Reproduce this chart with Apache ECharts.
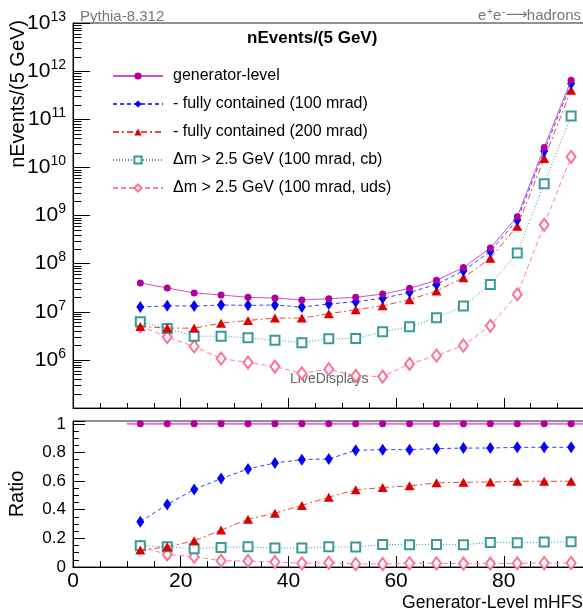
<!DOCTYPE html>
<html><head><meta charset="utf-8">
<script src="https://cdn.jsdelivr.net/npm/echarts@6/dist/echarts.min.js"></script>
<style>html,body{margin:0;padding:0;background:#fff}#c{width:583px;height:612px}</style>
</head><body><div id="c"></div>
<script>
// ---- data ----
const binCenters = [12.5,17.5,22.5,27.5,32.5,37.5,42.5,47.5,52.5,57.5,62.5,67.5,72.5,77.5,82.5,87.5,92.5];
const genLevel   = [3.97e7,3.12e7,2.46e7,2.23e7,1.99e7,1.93e7,1.75e7,1.87e7,1.99e7,2.33e7,3.06e7,4.49e7,8.26e7,2.12e8,9.4e8,2.58e10,6.5e11];
const cont100    = [1.25e7,1.33e7,1.31e7,1.38e7,1.36e7,1.38e7,1.25e7,1.45e7,1.62e7,1.9e7,2.53e7,3.7e7,7.1e7,1.8e8,8.1e8,2.19e10,5.5e11];
const cont200    = [4.94e6,4.57e6,4.57e6,5.8e6,6.6e6,7.38e6,7.38e6,9.1e6,1.1e7,1.33e7,1.78e7,2.7e7,5.1e7,1.29e8,6.0e8,1.52e10,4.0e11];
const dmCB       = [6.2e6,4.5e6,3.11e6,3.11e6,2.87e6,2.57e6,2.26e6,2.74e6,2.78e6,3.83e6,4.87e6,7.5e6,1.31e7,3.7e7,1.67e8,4.57e9,1.17e11];
const dmUDS      = [5.1e6,2.97e6,1.9e6,1.07e6,8.8e5,7.26e5,5.27e5,6.4e5,4.64e5,4.5e5,8.25e5,1.23e6,1.99e6,5.1e6,2.29e7,6.4e8,1.66e10];

const ratioGen    = [1,1,1,1,1,1,1,1,1,1,1,1,1,1,1,1,1];
const ratio100    = [0.316,0.437,0.541,0.618,0.685,0.727,0.75,0.755,0.815,0.82,0.82,0.827,0.831,0.831,0.836,0.836,0.836];
const ratio200    = [0.118,0.141,0.183,0.258,0.334,0.376,0.43,0.488,0.539,0.555,0.567,0.588,0.592,0.594,0.599,0.599,0.599];
const ratioCB     = [0.149,0.141,0.128,0.137,0.141,0.132,0.132,0.141,0.139,0.158,0.155,0.158,0.155,0.172,0.170,0.174,0.176];
const ratioUDS    = [0.141,0.088,0.072,0.044,0.042,0.035,0.026,0.030,0.021,0.021,0.026,0.026,0.024,0.024,0.025,0.028,0.028];
const ratioRefX   = [10, 95];
const ratioRefY   = [1, 1];

const seriesNames = ['generator-level','- fully contained (100 mrad)','- fully contained (200 mrad)',
  '\u0394m > 2.5 GeV (100 mrad, cb)','\u0394m > 2.5 GeV (100 mrad, uds)'];
const xTicks = [0,20,40,60,80,100];
const logDecades = [5,6,7,8,9,10,11,12,13];

// ---- style ----
const FONT = '"Liberation Sans", Arial, Helvetica, sans-serif';
const styles = [
  {color:'#b0009c', line:'#d050c8', type:'solid', symbol:'circle', size:7},
  {color:'#0000ff', line:'#3b3bff', type:[4,3], symbol:'diamond', size:[8,12]},
  {color:'#dd0000', line:'#ee4444', type:[6,3,2,3], symbol:'triangle', size:[10,9]},
  {color:'#3a9a9a', line:'#3a9a9a', type:[1,2], symbol:'emptyRect', size:9},
  {color:'#ff6f8f', line:'#ff7f9a', type:[5,3], symbol:'emptyDiamond', size:[9,12]}
];
const zip = (xs, ys) => xs.map((x,i)=>[x, ys[i]]);

const topData = [genLevel, cont100, cont200, dmCB, dmUDS];
const ratioData = [ratioGen, ratio100, ratio200, ratioCB, ratioUDS];

const minorLog = [];
for (const d of logDecades.slice(0,-1)) for (let k=2;k<=9;k++) minorLog.push(k*Math.pow(10,d));

const series = [];
topData.forEach((arr,i)=>{
  const s = styles[i];
  series.push({
    name: seriesNames[i], type:'line', xAxisIndex:0, yAxisIndex:0,
    data: zip(binCenters, arr), symbol:s.symbol, symbolSize:s.size,
    itemStyle:{color:s.color, borderColor:s.color, borderWidth: s.symbol.startsWith('empty')?1.3:0},
    lineStyle:{color:s.line, width:1, type:s.type},
    z: 10 - i, animation:false
  });
});
ratioData.forEach((arr,i)=>{
  const s = styles[i];
  series.push({
    name: 'ratio ' + seriesNames[i], type:'line', xAxisIndex:1, yAxisIndex:1,
    data: zip(binCenters, arr), symbol:s.symbol, symbolSize:s.size,
    itemStyle:{color:s.color, borderColor:s.color, borderWidth: s.symbol.startsWith('empty')?1.3:0},
    lineStyle:{color:s.line, width:1, type:s.type, opacity: i===0?0:1},
    z: 10 - i, animation:false
  });
});
series.push({
  name:'ratio ref', type:'line', xAxisIndex:1, yAxisIndex:1, data: zip(ratioRefX, ratioRefY),
  symbol:'none', lineStyle:{color:'#e070e0', width:2}, z:5, animation:false
});
// log minor ticks drawn through the y scale
series.push({
  type:'custom', xAxisIndex:0, yAxisIndex:0, silent:true, clip:false, animation:false,
  data: minorLog.map(v=>[0,v]),
  renderItem:(p,api)=>{
    const c = api.coord([0, api.value(1)]);
    const x = Math.round(c[0]) + 0.5, y = Math.round(c[1]) + 0.5;
    return {type:'line', shape:{x1:x, y1:y, x2:x+8, y2:y}, style:{stroke:'#000', lineWidth:1}};
  }
});

const axisLineStyle = {show:true, lineStyle:{color:'#000', width:1}};
const GRAY = '#777';

const option = {
  backgroundColor:'#fff',
  animation:false,
  textStyle:{fontFamily:FONT},
  grid:[
    {left:73, top:23, width:538.5, height:385, show:true, borderColor:'#222', borderWidth:1, backgroundColor:'transparent', outerBoundsMode:'none', containLabel:false},
    {left:73, top:421, width:538.5, height:146, show:true, borderColor:'#222', borderWidth:1, backgroundColor:'transparent', outerBoundsMode:'none', containLabel:false}
  ],
  xAxis:[
    {type:'value', gridIndex:0, min:0, max:100, interval:20, axisLine:axisLineStyle,
     axisTick:{show:true, inside:true, length:10, lineStyle:{color:'#000'}},
     minorTick:{show:true, splitNumber:4, length:5, lineStyle:{color:'#000'}},
     axisLabel:{show:false}, splitLine:{show:false}},
    {type:'value', gridIndex:1, min:0, max:100, interval:20, axisLine:axisLineStyle,
     axisTick:{show:true, inside:true, length:11, lineStyle:{color:'#000'}},
     minorTick:{show:true, splitNumber:4, length:6, lineStyle:{color:'#000'}},
     axisLabel:{show:true, fontSize:21, color:'#000', margin:4, fontFamily:FONT, hideOverlap:false,
       formatter:v=> xTicks.includes(v) ? String(v) : ''},
     splitLine:{show:false}}
  ],
  yAxis:[
    {type:'log', gridIndex:0, min:1e5, max:1e13, logBase:10, interval:1, splitNumber:8, axisLine:axisLineStyle,
     axisTick:{show:true, inside:true, length:17, lineStyle:{color:'#000'}},
     splitLine:{show:false},
     axisLabel:{show:true, margin:7, color:'#000', fontFamily:FONT,
       formatter:v=>{const e=Math.round(Math.log10(v)); return e===5?'':'{b|10}{s|'+e+'}';},
       rich:{b:{fontSize:21, fontFamily:FONT, color:'#000'}, s:{fontSize:14, fontFamily:FONT, color:'#000', padding:[0,0,12,0]}}}},
    {type:'value', gridIndex:1, min:0, max:1.02, interval:0.2, axisLine:axisLineStyle,
     axisTick:{show:true, inside:true, length:12, lineStyle:{color:'#000'}},
     minorTick:{show:true, splitNumber:4, length:6, lineStyle:{color:'#000'}},
     splitLine:{show:false},
     name:'Ratio', nameLocation:'middle', nameGap:46, nameRotate:90,
     nameTextStyle:{fontSize:20, color:'#000', fontFamily:FONT},
     axisLabel:{show:true, margin:7, fontSize:17, color:'#000', fontFamily:FONT,
       formatter:v=>{const r=Math.round(v*5); return Math.abs(v*5-r)<1e-6 ? String(+(r/5).toFixed(1)) : '';}}}
  ],
  legend:{
    data: seriesNames, orient:'vertical', left:107, top:63, itemWidth:50, itemHeight:9, itemGap:12,
    textStyle:{fontSize:16, color:'#000', fontFamily:FONT, padding:[0,0,0,5]},
    selectedMode:false
  },
  graphic:[
    {type:'text', left:80, top:9, style:{text:'Pythia-8.312', font:'15px '+FONT, fill:GRAY}},
    {type:'text', x:478, y:23, style:{text:'e', font:'15px '+FONT, fill:GRAY, verticalAlign:'bottom'}},
    {type:'text', x:487, y:17, style:{text:'+', font:'10px '+FONT, fill:GRAY, verticalAlign:'bottom'}},
    {type:'text', x:493, y:23, style:{text:'e', font:'15px '+FONT, fill:GRAY, verticalAlign:'bottom'}},
    {type:'text', x:502, y:17, style:{text:'-', font:'10px '+FONT, fill:GRAY, verticalAlign:'bottom'}},
    {type:'text', x:506, y:23, style:{text:'\u27f6', font:'15px "DejaVu Sans", '+FONT, fill:GRAY, verticalAlign:'bottom'}},
    {type:'text', x:581, y:23, style:{text:'hadrons', font:'15px '+FONT, fill:GRAY, align:'right', verticalAlign:'bottom'}},
    {type:'text', left:247, top:30, style:{text:'nEvents/(5 GeV)', font:'bold 17px '+FONT, fill:'#000'}},
    {type:'text', left:290, top:372, style:{text:'LiveDisplays', font:'14px '+FONT, fill:'#666'}},
    {type:'text', right:0, top:594, style:{text:'Generator-Level mHFS', font:'17.5px '+FONT, fill:'#000'}},
    {type:'text', x:18, y:20, rotation:Math.PI/2, style:{text:'nEvents/(5 GeV)', font:'20px '+FONT, fill:'#000', align:'right', verticalAlign:'middle'}}
  ],
  series
};
const chart = echarts.init(document.getElementById('c'), null, {renderer:'canvas'});
chart.setOption(option);
</script>
</body></html>
